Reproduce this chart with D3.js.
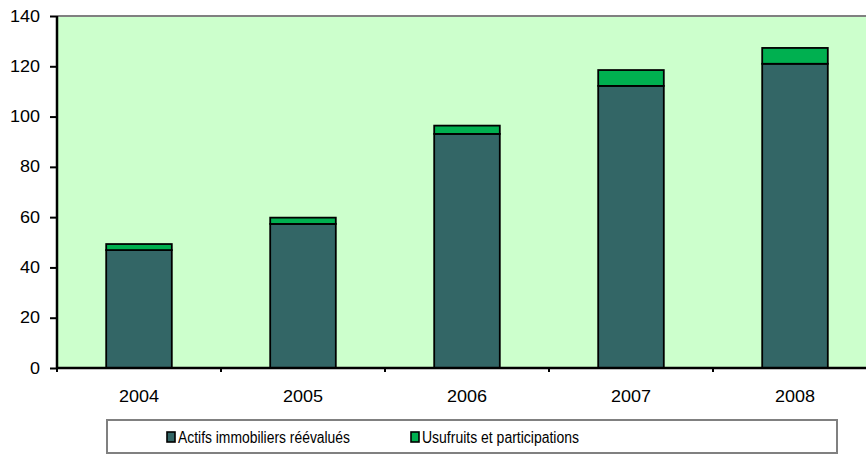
<!DOCTYPE html>
<html><head><meta charset="utf-8">
<script src="https://cdn.jsdelivr.net/npm/d3@7"></script>
<style>body{margin:0;background:#fff}svg{display:block}</style>
</head><body>
<svg id="c" width="866" height="454"></svg>
<script>
const categories = ["2004","2005","2006","2007","2008"];
const actifs = [46.9, 57.3, 93.1, 112.2, 121.0];
const usufruits = [2.4, 2.5, 3.3, 6.3, 6.3];
const seriesNames = ["Actifs immobiliers réévalués","Usufruits et participations"];
const seriesColors = ["#336666","#00B050"];
const yTicks = [0,20,40,60,80,100,120,140];

const svg = d3.select("#c");
const L = 57, T = 16, B = 368, R = 877;
const x = d3.scaleBand().domain(categories).range([L,R]).paddingInner(0.6).paddingOuter(0.3);
const y = d3.scaleLinear().domain([0,140]).range([B,T]);
const font = "'Liberation Sans', Arial, sans-serif";

svg.append("rect").attr("x",L).attr("y",T).attr("width",R-L).attr("height",B-T).attr("fill","#CCFFCC");
svg.append("line").attr("x1",L).attr("x2",866).attr("y1",T).attr("y2",T).attr("stroke","#808080").attr("stroke-width",2);

const stacked = d3.stack().keys([0,1]).value((d,k)=>d[k])(categories.map((c,i)=>[actifs[i],usufruits[i]]));
stacked.forEach((s,si)=>{
  svg.append("g").selectAll("rect").data(s).join("rect")
    .attr("x",(d,i)=>x(categories[i]))
    .attr("width",x.bandwidth())
    .attr("y",d=>y(d[1]))
    .attr("height",d=>y(d[0])-y(d[1]))
    .attr("fill",seriesColors[si])
    .attr("stroke","#000").attr("stroke-width",1.8);
});

// Y axis
const ya = svg.append("g").attr("transform",`translate(${L},0)`)
  .call(d3.axisLeft(y).tickValues(yTicks).tickSize(7).tickPadding(10));
ya.select(".domain").attr("stroke","#000").attr("stroke-width",2.5).attr("d",`M0,${T}V${B}`);
ya.selectAll(".tick line").attr("stroke","#000").attr("stroke-width",2);
ya.selectAll("text").attr("font-family",font).attr("font-size",16).attr("fill","#000")
  .attr("textLength",d=>String(d).length*10).attr("lengthAdjust","spacingAndGlyphs");

// X axis
const xa = svg.append("g").attr("transform",`translate(0,${B})`);
xa.append("line").attr("x1",L).attr("x2",866).attr("y1",0).attr("y2",0).attr("stroke","#000").attr("stroke-width",2.5);
xa.selectAll("line.t").data(d3.range(categories.length+1)).join("line").attr("class","t")
  .attr("x1",i=>L+i*x.step()).attr("x2",i=>L+i*x.step()).attr("y1",0).attr("y2",4)
  .attr("stroke","#000").attr("stroke-width",2);
xa.selectAll("text").data(categories).join("text")
  .attr("x",d=>x(d)+x.bandwidth()/2).attr("y",34).attr("text-anchor","middle")
  .attr("font-family",font).attr("font-size",16).attr("fill","#000")
  .attr("textLength",40).attr("lengthAdjust","spacingAndGlyphs").text(d=>d);

// Legend
const lg = svg.append("g");
lg.append("rect").attr("x",107).attr("y",420).attr("width",730).attr("height",33)
  .attr("fill","#fff").attr("stroke","#808080").attr("stroke-width",2);
const lx = [167,411], tw = [172,157];
seriesNames.forEach((n,i)=>{
  lg.append("rect").attr("x",lx[i]).attr("y",432).attr("width",8).attr("height",10)
    .attr("fill",seriesColors[i]).attr("stroke","#000").attr("stroke-width",1.6);
  lg.append("text").attr("x",lx[i]+11).attr("y",443).attr("font-family",font).attr("font-size",16)
    .attr("fill","#000").attr("textLength",tw[i]).attr("lengthAdjust","spacingAndGlyphs").text(n);
});
</script>
</body></html>
